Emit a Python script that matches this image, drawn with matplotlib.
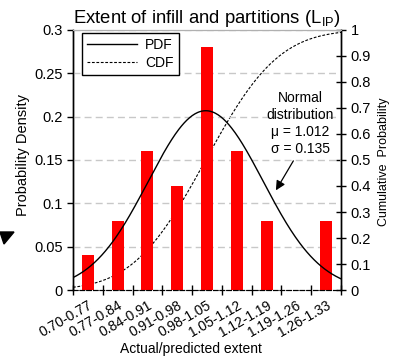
import numpy as np
import matplotlib
matplotlib.use("Agg")
import matplotlib.pyplot as plt
from matplotlib.patches import Polygon
import math

plt.rcParams['font.family'] = ['Liberation Sans', 'DejaVu Sans']
plt.rcParams['mathtext.fontset'] = 'custom'
plt.rcParams['mathtext.rm'] = 'Liberation Sans'
plt.rcParams['mathtext.it'] = 'Liberation Sans:italic'

# Data
categories = ["0.70-0.77", "0.77-0.84", "0.84-0.91", "0.91-0.98", "0.98-1.05",
              "1.05-1.12", "1.12-1.19", "1.19-1.26", "1.26-1.33"]
bin_edges = [0.70, 0.77, 0.84, 0.91, 0.98, 1.05, 1.12, 1.19, 1.26, 1.33]
density = [0.04, 0.08, 0.16, 0.12, 0.28, 0.16, 0.08, 0.0, 0.08]
mu = 1.012
sigma = 0.135
left_ticks = [0, 0.05, 0.1, 0.15, 0.2, 0.25, 0.3]
right_ticks = [0, 0.1, 0.2, 0.3, 0.4, 0.5, 0.6, 0.7, 0.8, 0.9, 1.0]

edges = np.array(bin_edges)
centers = (edges[:-1] + edges[1:]) / 2
binw = edges[1] - edges[0]

xs = np.linspace(edges[0], edges[-1], 300)
pdf = np.exp(-0.5 * ((xs - mu) / sigma) ** 2) / (sigma * math.sqrt(2 * math.pi)) * binw
cdf = np.array([0.5 * (1 + math.erf((x - mu) / (sigma * math.sqrt(2)))) for x in xs])

fig = plt.figure(figsize=(4.06, 3.62), dpi=100)
ax = fig.add_axes([73/406, 1-290/362, 268/406, 260/362])
ax2 = ax.twinx()

ax.set_zorder(2)
ax.patch.set_visible(False)

ax.bar(centers, density, width=binw*0.4, color='#ff0000', zorder=2)
l1, = ax.plot(xs, pdf, color='black', lw=1.0, zorder=3, label='PDF')
l2, = ax2.plot(xs, cdf, color='black', lw=0.8, ls=(0, (2.5, 1.5)), label='CDF')

ax.set_xlim(edges[0], edges[-1])
ax.set_ylim(0, 0.3)
ax2.set_ylim(0, 1)

for t in left_ticks[1:]:
    ax.axhline(t, color='#c8c8c8', lw=1.0, ls=(0, (5, 3)), zorder=0)

ax.set_yticks(left_ticks)
ax.set_yticklabels(['{:g}'.format(t) for t in left_ticks], fontsize=10.5)
ax.tick_params(axis='y', direction='out', length=4, width=1)
ax2.set_yticks(right_ticks)
ax2.set_yticklabels(['{:g}'.format(t) for t in right_ticks], fontsize=10.5)
ax2.tick_params(axis='y', direction='inout', length=7, width=1)

ax.set_xticks(edges)
ax.set_xticklabels([])
ax.tick_params(axis='x', which='major', direction='inout', length=7, width=1)
ax.set_xticks(centers, minor=True)
ax.set_xticklabels(categories, minor=True, rotation=30, ha='right', va='top',
                   rotation_mode='anchor', fontsize=10)
ax.tick_params(axis='x', which='minor', length=0, pad=6)

for a in (ax, ax2):
    a.spines['top'].set_color('#b0b0b0')
    a.spines['bottom'].set_linestyle((0, (4, 2)))
    a.spines['left'].set_linewidth(1.0)
    a.spines['right'].set_linewidth(1.0)

ax.set_ylabel('Probability Density', fontsize=10.5)
ax.yaxis.set_label_coords((30-73)/268, (290-155)/260)
ax2.set_ylabel('Cumulative  Probability', fontsize=9)
ax2.yaxis.set_label_coords((378-73)/268, (290-162)/260)
ax.set_xlabel('Actual/predicted extent', fontsize=10)
ax.xaxis.set_label_coords((191-73)/268, (290-342)/260)
ax.set_title('Extent of infill and partitions (L$_{\\mathrm{IP}}$)', fontsize=13.3, pad=5)

leg = ax.legend([l1, l2], ['PDF', 'CDF'], loc='upper left',
                bbox_to_anchor=((82-73)/268, 1-(33-30)/260), borderaxespad=0,
                fontsize=10, frameon=True, fancybox=False, edgecolor='black',
                framealpha=1, handlelength=3.6, borderpad=0.35, labelspacing=0.3,
                handletextpad=0.6)
leg.get_frame().set_linewidth(1.0)

ax.text(1.234, 0.192, 'Normal\ndistribution\n\u03bc = 1.012\n\u03c3 = 0.135',
        ha='center', va='center', fontsize=10, linespacing=1.25, zorder=5)
ax.annotate('', xy=(1.177, 0.115), xytext=(1.218, 0.149),
            arrowprops=dict(arrowstyle='-|>', color='black', lw=0.9,
                            mutation_scale=14, shrinkA=0, shrinkB=0), zorder=5)

# stray arrowhead at left edge of the original image
tri = Polygon([[0/406, 1-232/362], [14/406, 1-232/362], [4/406, 1-244/362]],
              closed=True, transform=fig.transFigure, color='black')
fig.patches.append(tri)

fig.savefig('out.png', dpi=100)
